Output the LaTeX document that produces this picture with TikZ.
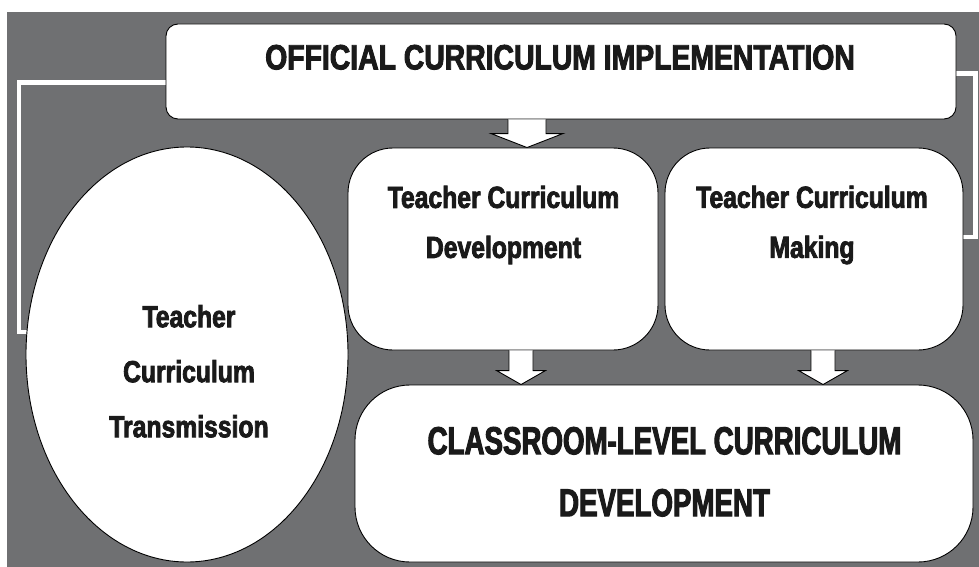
\documentclass[tikz,border=0pt]{standalone}
\usepackage{fontspec}
\usepackage{tikz}
\usetikzlibrary{shapes.geometric}
\usetikzlibrary{calc}
\usetikzlibrary{backgrounds}
\newfontfamily\condfont{Liberation Sans}[FakeStretch=0.81, FakeBold=2.6]
\newfontfamily\narrowfont{Liberation Sans}[FakeStretch=0.71, FakeBold=2.6]
\definecolor{panelgray}{RGB}{111,112,114}
\definecolor{inkblack}{RGB}{26,26,26}

\tikzset{
  card/.style={draw=black, line width=0.9pt, fill=white, rounded corners=#1, inner sep=0pt},
  card/.default=12pt,
  oval/.style={ellipse, draw=black, line width=0.9pt, fill=white, inner sep=0pt},
  cardtext/.style={align=center, text=inkblack, inner sep=0pt,
    font=\condfont\bfseries\fontsize{30.5}{50}\selectfont},
  link/.style={draw=white, line width=4.5pt},
  arrowbody/.style={fill=white, draw=black, line width=0.9pt, line join=miter},
}

% block arrow from #1 (top) to #2 (tip), shaft half width #3, head half width #4
\newcommand{\blockarrow}[4]{%
  \filldraw[arrowbody] let \p1=#1, \p2=#2 in
    (\x1-#3,\y1) -- (\x1-#3,\y2+14pt) -- (\x1-#4,\y2+14pt) -- (\x1,\y2)
    -- (\x1+#4,\y2+14pt) -- (\x1+#3,\y2+14pt) -- (\x1+#3,\y1);
}

\begin{document}
\begin{tikzpicture}[x=1pt, y=-1pt]
\useasboundingbox (0,0) rectangle (979,567);

% Draw the boxes
\node[card=12pt, minimum width=790pt, minimum height=95pt] (impl) at (561,71.5) {};
\node[card=45pt, minimum width=310pt, minimum height=202pt] (dev) at (503,249) {};
\node[card=45pt, minimum width=298pt, minimum height=202pt] (make) at (814,249) {};
\node[card=55pt, minimum width=618pt, minimum height=177pt] (class) at (664,473.5) {};
\node[oval, minimum width=322pt, minimum height=415pt] (trans) at (187,354.5) {};

% Texts of the boxes
\node[cardtext, font=\condfont\bfseries\fontsize{35}{50}\selectfont] (impl-t) at (560,57.3)
  {OFFICIAL CURRICULUM IMPLEMENTATION};
\node[cardtext] (dev-t) at (503.5,225) {Teacher Curriculum\\Development};
\node[cardtext] (make-t) at (812,225) {Teacher Curriculum\\Making};
\node[cardtext, font=\condfont\bfseries\fontsize{30.5}{55}\selectfont] (trans-t) at (189,371.3)
  {Teacher\\Curriculum\\Transmission};
\node[cardtext, font=\narrowfont\bfseries\fontsize{39}{62}\selectfont] (class-t) at (664.5,471.8)
  {CLASSROOM-LEVEL CURRICULUM\\DEVELOPMENT};

% Gray panel and white brackets behind the boxes
\begin{scope}[on background layer]
\fill[panelgray] (7,12) rectangle (979,567);
\draw[link] ([yshift=-11pt]impl.west) -- ++(-146.5,0) |- (trans.172);
\draw[link] ([yshift=-2pt]impl.east) -- ++(19,0) |- ([yshift=12pt]make.east);
\end{scope}

% Block arrows
\coordinate (a1) at (527,0);
\coordinate (a2) at (521,0);
\coordinate (a3) at (823,0);
\blockarrow{(a1 |- impl.south)}{(a1 |- dev.north)}{19pt}{36pt}
\blockarrow{(a2 |- dev.south)}{(a2 |- class.north)}{12pt}{24.5pt}
\blockarrow{(a3 |- make.south)}{(a3 |- class.north)}{12pt}{24.5pt}

\end{tikzpicture}
\end{document}
